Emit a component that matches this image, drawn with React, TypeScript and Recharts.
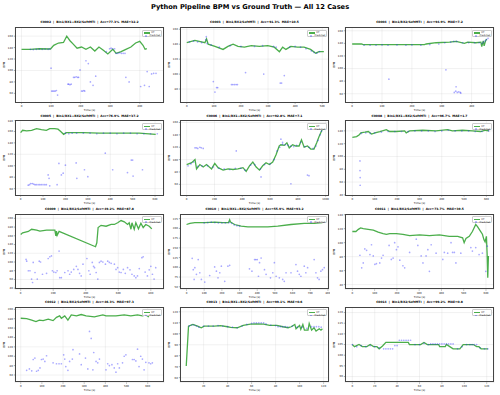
import React from 'react'
import { CartesianGrid, ComposedChart, Line, Scatter, XAxis, YAxis } from 'recharts'

type Pt = [number, number]

const caseIds = ['C0002', 'C0003', 'C0004', 'C0005', 'C0006', 'C0008', 'C0009', 'C0010', 'C0011', 'C0012', 'C0013', 'C0014']
const caseCfgs = [
  'Bin1/RX1+RX2/SoftMTI',
  'Bin1/RX2/SoftMTI',
  'Bin1/RX2/SoftMTI',
  'Bin1/RX1+RX2/SoftMTI',
  'Bin1/RX1+RX2/SoftMTI',
  'Bin1/RX1+RX2/SoftMTI',
  'Bin1/RX2/SoftMTI',
  'Bin1/RX1+RX2/SoftMTI',
  'Bin1/RX2/SoftMTI',
  'Bin1/RX2/SoftMTI',
  'Bin1/RX1+RX2/SoftMTI',
  'Bin1/RX2/SoftMTI'
]
const caseAcc = ['77.3', '91.3', '94.9', '76.9', '92.8', '96.7', '49.2', '55.9', '73.7', '46.3', '99.1', '99.2']
const caseMae = ['32.2', '10.5', '7.2', '37.2', '7.1', '1.7', '87.8', '93.2', '39.5', '97.3', '0.6', '0.8']

// ground truth (t, bpm) and predicted (t, bpm) per case
const gt02: Pt[] = [[0,137],[30,137],[60,138],[98,137.5],[109,144],[125,148],[142,149],[153,160],[164,152],[175,146],[188,139],[203,141],[218,137],[233,141],[248,134],[262,141],[278,135],[292,129],[309,137],[320,130],[337,133],[353,137],[370,141],[386,148],[400,151],[411,144],[418,137],[424,138]]
const pr02: Pt[] = [[30,137],[40,136.5],[50,137],[60,137.5],[70,137],[80,137.5],[90,137],[96,138],[100,104],[102,64],[106,64],[110,64],[114,64],[118,65],[122,57],[157,76],[160,76],[164,75],[168,76],[176,88],[180,88],[185,89],[190,88],[193,88],[198,101],[203,64],[207,64],[211,65],[214,64],[218,117],[226,112],[233,80],[242,74],[251,90],[287,133],[298,138],[303,139],[308,138],[315,138],[320,130],[326,130],[332,131],[338,130],[344,130],[350,130],[353,88],[364,80],[403,72],[416,74],[425,98],[432,72],[440,94],[447,95],[455,95]]

const gt03: Pt[] = [[0,142],[30,145],[67,142],[73,147],[79,140],[104,137],[134,133],[152,137],[171,140],[189,137],[213,136],[238,138],[268,137],[299,138],[323,136],[342,130],[354,136],[366,133],[384,137],[409,136],[433,136],[457,133],[476,128],[488,130],[506,130]]
const pr03: Pt[] = [[10,143],[25,144],[40,143],[55,142],[70,146],[72,150],[75,141],[90,139],[120,136],[160,138],[200,137],[250,137],[280,138],[320,137],[330,136],[380,136],[400,137],[420,136],[440,134],[460,131],[470,129],[480,128],[490,130],[98,90],[104,76],[110,82],[114,82],[165,86],[170,86],[176,86],[182,86],[187,86],[217,102],[284,100],[345,88],[350,88],[360,98]]

const gt04: Pt[] = [[0,139],[31,139],[37,138],[100,138],[150,138],[200,138],[242,138],[248,139],[281,141],[326,142],[348,143],[376,140],[387,142],[414,141],[431,142],[434,135],[439,144],[442,136],[446,143],[450,147]]
const pr04: Pt[] = [[40,137],[60,137],[80,137],[100,137.5],[120,137],[150,137.5],[180,137],[200,137.5],[230,137],[260,138],[290,139],[310,141],[330,142],[340,143],[350,143],[370,141],[390,141],[410,141],[425,141],[435,140],[440,142],[445,144],[450,146],[455,148],[123,83],[314,98],[348,71],[342,62],[347,64],[352,62],[357,63],[362,62],[364,61]]

const gt05: Pt[] = [[0,158],[9,162],[27,161],[49,162],[71,165],[93,163],[115,162],[130,165],[152,165],[167,164],[179,160],[192,155],[204,158],[234,158],[278,158],[352,157],[440,157],[529,157],[603,155]]
const pr05: Pt[] = [[200,157],[215,156],[230,157],[250,157],[280,157],[310,157],[340,156],[370,157],[400,157],[430,156],[460,157],[490,157],[520,156],[550,156],[580,156],[610,156],[34,66],[40,67],[45,69],[52,69],[58,68],[64,67],[70,67],[78,67],[85,67],[92,67],[100,67],[108,67],[115,67],[123,84],[127,78],[130,65],[163,67],[171,104],[182,84],[190,87],[200,101],[248,105],[251,78],[285,93],[300,81],[378,122],[411,93],[477,88],[494,110],[500,110],[502,82],[544,93]]

const gt06: Pt[] = [[0,92],[36,95],[60,100],[71,85],[95,92],[119,88],[143,92],[179,85],[202,94],[226,87],[262,83],[298,85],[333,84],[369,85],[405,87],[428,81],[452,90],[476,96],[500,88],[524,83],[547,90],[571,95],[595,92],[619,96],[643,108],[666,122],[678,124],[702,123],[721,127],[738,119],[762,124],[785,122],[809,122],[826,132],[845,120],[869,122],[893,117],[916,117],[935,127],[952,137],[976,149]]
const pr06: Pt[] = [[10,90],[30,93],[50,96],[80,89],[110,90],[150,90],[190,88],[230,86],[270,85],[310,84],[350,86],[390,86],[420,83],[460,91],[490,92],[530,85],[560,92],[600,93],[630,100],[650,114],[670,120],[690,125],[710,124],[730,123],[750,122],[770,121],[790,123],[820,128],[850,121],[880,120],[910,118],[930,122],[945,131],[960,140],[970,146],[60,119],[70,119],[80,118],[95,120],[105,119],[119,118],[357,114],[535,72],[678,133],[690,128],[750,61],[869,75],[880,74]]

const gt08: Pt[] = [[0,130],[19,131],[31,134],[38,137],[56,138],[71,139],[86,135],[101,137],[123,139],[152,142],[167,139],[197,139],[234,140],[241,137],[256,140],[315,141],[374,140],[426,142],[448,140],[493,141],[537,140],[574,139],[596,141],[611,140]]
const pr08: Pt[] = [[40,136],[60,137],[80,136],[100,137],[130,138],[160,139],[190,139],[220,139],[250,139],[280,140],[310,140],[340,140],[370,139],[400,140],[430,141],[460,140],[490,140],[520,140],[550,139],[580,139],[610,140],[34,93],[34,78],[35,67],[35,55]]

const gt09: Pt[] = [[0,163],[12,167],[47,170],[67,175],[98,173],[118,171],[159,173],[210,173],[216,160],[220,171],[224,161],[236,170],[460,135],[468,144],[476,179],[494,184],[525,182],[556,186],[576,186],[596,190],[617,195],[637,192],[657,186],[667,190],[678,175],[684,190],[698,175],[708,190],[724,176],[739,189],[753,179],[769,186],[790,182],[806,176]]
const pr09: Pt[] = [[33,106],[37,102],[47,80],[57,80],[67,61],[73,53],[77,99],[88,76],[102,61],[114,102],[122,100],[134,72],[159,74],[169,108],[179,112],[189,114],[195,80],[204,77],[216,76],[224,80],[236,125],[240,64],[250,64],[271,76],[291,80],[301,72],[311,77],[326,83],[342,90],[352,83],[362,74],[372,68],[383,95],[407,108],[419,80],[427,72],[440,99],[448,90],[454,87],[464,76],[474,61],[484,99],[494,102],[505,100],[521,95],[535,102],[545,99],[556,97],[576,95],[586,83],[596,87],[606,77],[617,76],[631,83],[643,74],[657,87],[672,82],[684,72],[698,68],[708,64],[718,68],[729,85],[745,110],[753,112],[765,77],[779,68],[790,82],[800,90],[810,72],[820,61],[830,87]]

const gt10: Pt[] = [[0,210],[19,213],[47,215],[103,215],[159,216],[206,215],[238,215],[244,222],[249,216],[272,210],[309,206],[347,204],[403,204],[460,204],[516,206],[591,210],[666,213],[722,213],[769,215]]
const pr10: Pt[] = [[100,214],[120,215],[140,216],[160,215],[180,214],[200,214],[220,214],[240,215],[255,213],[270,209],[285,207],[300,206],[32,123],[38,94],[47,99],[43,69],[56,82],[66,120],[75,86],[84,69],[103,62],[131,79],[159,101],[169,90],[178,73],[188,86],[197,103],[216,64],[234,103],[244,105],[356,96],[370,90],[385,120],[392,120],[400,120],[413,112],[407,77],[422,124],[441,94],[450,82],[475,73],[488,86],[497,112],[507,77],[525,73],[544,69],[553,64],[563,86],[591,86],[619,107],[628,90],[638,82],[647,77],[666,103],[675,86],[685,99],[722,120],[732,86],[741,73],[750,69],[760,90],[769,94],[779,99]]

const gt11: Pt[] = [[0,116],[16,116],[27,119],[37,121],[49,120],[71,119],[94,118],[116,115],[138,113],[153,112],[168,113],[198,113],[227,112],[257,110],[302,111],[346,110],[391,111],[435,109],[473,109],[495,107],[502,100],[510,106],[525,109],[539,116],[554,126],[562,123],[572,118],[584,112],[591,104],[596,101],[602,109],[605,85],[608,50],[611,81]]
const pr11: Pt[] = [[34,82],[42,64],[49,71],[56,91],[64,89],[79,83],[86,97],[94,81],[101,69],[108,70],[123,71],[131,78],[138,82],[165,96],[175,76],[183,78],[190,100],[198,90],[205,94],[213,75],[227,67],[235,64],[257,86],[287,105],[294,96],[309,81],[317,71],[331,81],[339,90],[346,59],[354,97],[376,85],[406,76],[413,86],[428,85],[443,100],[450,86],[458,86],[465,71],[487,85],[532,93],[539,88],[554,93],[569,83],[584,85],[599,59],[606,95]]

const gt12: Pt[] = [[0,181],[28,180],[52,177],[72,174],[88,177],[106,176],[130,179],[153,176],[169,183],[184,186],[192,181],[208,186],[223,177],[239,188],[263,186],[286,189],[309,186],[348,184],[388,188],[403,186],[450,186],[489,188],[520,186],[552,188],[575,186],[591,188],[606,184]]
const pr12: Pt[] = [[28,70],[41,73],[52,69],[59,93],[67,96],[75,68],[83,70],[91,75],[98,93],[106,94],[114,89],[122,101],[153,86],[169,84],[181,84],[192,84],[203,103],[208,94],[213,78],[223,70],[231,89],[244,94],[247,114],[278,105],[286,82],[306,96],[317,73],[325,153],[333,138],[341,71],[345,108],[356,89],[364,86],[372,94],[403,71],[411,84],[419,80],[431,82],[442,75],[450,66],[458,84],[466,75],[481,86],[489,100],[497,103],[528,93],[536,93],[544,90],[552,115],[559,78],[567,100],[575,94],[583,71],[591,87],[606,86],[614,84],[622,86]]

const gt13: Pt[] = [[5.5,70.6],[7.4,107],[11,108.5],[15,107],[18,105.5],[20.5,107],[29,107],[34,107.5],[40,106.4],[42.5,105.8],[48,105.5],[53,107.6],[59,108.8],[64,109],[70,108.8],[75,107.6],[81,107.6],[86,106.4],[90.4,105.5],[93,106.4],[96,108.5],[97,104.5],[100,107.6],[101,104],[102.7,108.5],[104,103.3],[107,103.3],[108,109.4],[110,103.3],[112,105.5],[113.7,102.4],[116.4,104.5],[117.8,103.3],[119,104.5]]
const pr13: Pt[] = [[8,107],[10,108],[12,108],[14,107],[16,106],[20,107],[24,107],[28,107],[32,107.5],[36,107],[40,106.5],[44,106],[48,105.5],[52,107],[56,108.5],[60,109.5],[62,110],[64,110],[66,110],[68,110],[70,110],[72,109],[76,108],[80,107.5],[82,106.5],[84,106.5],[86,106.5],[88,106.5],[90,106],[94,107],[98,106],[102,106],[106,105],[110,106.5],[112,106.5],[114,106.5],[116,106.5],[118,106]]

const gt14: Pt[] = [[0,105],[2,104],[6,105],[9,104],[13,104],[16,105],[19,104],[22,104],[24,103],[27,104.3],[30,106],[40,106],[43,106],[50,106],[51,105],[61,105],[64,106],[67,105],[77,105],[78,104],[83,104],[84,105],[87,104],[90,103],[96,103],[99,105],[108,105],[111,104],[113,104],[115,103],[121,103]]
const pr14: Pt[] = [[0,105],[4,104],[8,104.5],[12,104],[16,104.5],[20,104],[24,103.5],[28,103],[30,103],[32,103],[34,103],[36,103],[38,104.5],[40,104.5],[42,107],[44,107],[46,107],[48,107],[50,107],[52,107],[56,105],[60,105],[64,105.5],[68,105],[70,105.3],[72,105.3],[74,105.3],[76,105.3],[78,105.3],[80,105.3],[82,105.3],[84,105.3],[86,105.3],[88,105.3],[90,105.3],[94,103],[98,104],[102,105],[105,105],[107,105],[109,105],[111,105],[114,103.5],[118,103],[121,103]]

const t100 = [0, 100, 200, 300, 400]
const t100to500 = [0, 100, 200, 300, 400, 500]
const t100to600 = [0, 100, 200, 300, 400, 500, 600]

const panels = [
  { gt: gt02, pr: pr02, xd: [-22, 482], xt: t100, yd: [44, 176], yt: [60, 80, 100, 120, 140, 160] },
  { gt: gt03, pr: pr03, xd: [-25, 525], xt: t100to500, yd: [62, 163], yt: [80, 100, 120, 140, 160] },
  { gt: gt04, pr: pr04, xd: [-24, 475], xt: t100, yd: [46, 166], yt: [60, 80, 100, 120, 140, 160] },
  { gt: gt05, pr: pr05, xd: [-25, 640], xt: t100to600, yd: [48, 180], yt: [60, 80, 100, 120, 140, 160, 180] },
  { gt: gt06, pr: pr06, xd: [-48, 1024], xt: [0, 200, 400, 600, 800, 1000], yd: [42, 164], yt: [60, 80, 100, 120, 140, 160] },
  { gt: gt08, pr: pr08, xd: [-33, 634], xt: t100to600, yd: [39, 157], yt: [40, 60, 80, 100, 120, 140] },
  { gt: gt09, pr: pr09, xd: [-35, 881], xt: [0, 200, 400, 600, 800], yd: [37, 210], yt: [40, 60, 80, 100, 120, 140, 160, 180, 200] },
  { gt: gt10, pr: pr10, xd: [-37, 806], xt: [0, 100, 200, 300, 400, 500, 600, 700, 800], yd: [43, 237], yt: [50, 75, 100, 125, 150, 175, 200, 225] },
  { gt: gt11, pr: pr11, xd: [-33, 636], xt: t100to600, yd: [33, 141], yt: [40, 60, 80, 100, 120, 140] },
  { gt: gt12, pr: pr12, xd: [-27, 677], xt: t100to600, yd: [44, 205], yt: [60, 80, 100, 120, 140, 160, 180, 200] },
  { gt: gt13, pr: pr13, xd: [0.3, 124.5], xt: [20, 40, 60, 80, 100, 120], yd: [55.6, 124.4], yt: [60, 70, 80, 90, 100, 110, 120] },
  { gt: gt14, pr: pr14, xd: [-6.5, 126.5], xt: [0, 20, 40, 60, 80, 100, 120], yd: [87.2, 122.6], yt: [90, 95, 100, 105, 110, 115, 120] }
]

const FONT = '"DejaVu Sans", sans-serif'
const BOX_W = 149
const BOX_H = 75.5
const Y_W = 16
const X_H = 13
const colLeft = [15, 180, 345]
const rowTop = [27.3, 120.4, 213.5, 306.6]

const dot = (props: any) => (
  <circle cx={props.cx} cy={props.cy} r={0.85} fill="#2020ff" fillOpacity={0.38} />
)

function Panel({ i }: { i: number }) {
  const p = panels[i]
  const left = colLeft[i % 3]
  const top = rowTop[Math.floor(i / 3)]
  const gtData = p.gt.map(([t, v]) => ({ t, v }))
  const prData = p.pr.map(([t, v]) => ({ t, v }))
  const tick = { fontSize: 2.6, fill: '#111', fontFamily: FONT }

  return (
    <>
      <div
        style={{
          position: 'absolute',
          left: left - 20,
          top: top - 5.9,
          width: BOX_W + 40,
          textAlign: 'center',
          fontSize: 3,
          lineHeight: '3.2px',
          fontWeight: 'bold',
          whiteSpace: 'pre',
          color: '#000'
        }}>
        {`${caseIds[i]}  |  ${caseCfgs[i]}  |  Acc=${caseAcc[i]}%  MAE=${caseMae[i]}`}
      </div>
      <div style={{ position: 'absolute', left: left - Y_W, top }}>
        <ComposedChart
          width={Y_W + BOX_W + 1}
          height={BOX_H + X_H}
          margin={{ top: 0, right: 1, bottom: 0, left: 0 }}>
          <CartesianGrid stroke="#c8c8c8" strokeOpacity={0.6} strokeWidth={0.4} />
          <XAxis
            type="number"
            dataKey="t"
            domain={p.xd}
            ticks={p.xt}
            allowDataOverflow
            height={X_H}
            tick={tick}
            tickSize={1.2}
            tickMargin={1.2}
            axisLine={false}
            tickLine={{ stroke: '#333', strokeWidth: 0.4 }}
            label={{ value: 'Time (s)', position: 'insideBottom', offset: 4.2, fontSize: 2.8, fill: '#111', fontFamily: FONT }}
          />
          <YAxis
            type="number"
            dataKey="v"
            domain={p.yd}
            ticks={p.yt}
            allowDataOverflow
            width={Y_W}
            tick={tick}
            tickSize={1.2}
            tickMargin={1}
            axisLine={false}
            tickLine={{ stroke: '#333', strokeWidth: 0.4 }}
            label={{
              value: 'BPM',
              angle: -90,
              position: 'insideLeft',
              offset: 5,
              fontSize: 2.8,
              fill: '#111',
              fontFamily: FONT,
              style: { textAnchor: 'middle' }
            }}
          />
          <Line
            data={gtData}
            dataKey="v"
            type="linear"
            stroke="#2ca02c"
            strokeOpacity={0.85}
            strokeWidth={1.3}
            dot={false}
            activeDot={false}
            isAnimationActive={false}
          />
          <Scatter data={prData} dataKey="v" shape={dot} isAnimationActive={false} />
        </ComposedChart>
      </div>
      <div
        style={{
          position: 'absolute',
          left,
          top,
          width: BOX_W,
          height: BOX_H,
          border: '0.6px solid #444',
          boxSizing: 'border-box',
          pointerEvents: 'none'
        }}
      />
      <div
        style={{
          position: 'absolute',
          left: left + BOX_W - 22.3,
          top: top + 2.6,
          width: 20.6,
          height: 7.3,
          border: '0.4px solid #ccc',
          borderRadius: 1,
          background: 'rgba(255,255,255,0.85)',
          boxSizing: 'border-box',
          fontSize: 2.3,
          lineHeight: '3px',
          color: '#111',
          padding: '0.6px 1px'
        }}>
        <div style={{ display: 'flex', alignItems: 'center' }}>
          <span style={{ display: 'inline-block', width: 6, height: 1.2, background: '#2ca02c', opacity: 0.85, marginRight: 1.6 }} />
          GT
        </div>
        <div style={{ display: 'flex', alignItems: 'center' }}>
          <span style={{ display: 'inline-block', width: 6, marginRight: 1.6, textAlign: 'center', lineHeight: 0 }}>
            <span style={{ display: 'inline-block', width: 1.5, height: 1.5, borderRadius: 1, background: 'rgba(32,32,255,0.4)' }} />
          </span>
          Predicted
        </div>
      </div>
    </>
  )
}

export default function App() {
  return (
    <div
      style={{
        position: 'absolute',
        left: 0,
        top: 0,
        width: 500,
        height: 395,
        background: '#fff',
        fontFamily: FONT,
        overflow: 'hidden'
      }}>
      <div
        style={{
          position: 'absolute',
          left: 0,
          top: 3,
          width: 500,
          textAlign: 'center',
          fontSize: 6.7,
          lineHeight: '8px',
          fontWeight: 'bold',
          color: '#000'
        }}>
        Python Pipeline BPM vs Ground Truth — All 12 Cases
      </div>
      {panels.map((_, i) => (
        <Panel key={caseIds[i]} i={i} />
      ))}
    </div>
  )
}
